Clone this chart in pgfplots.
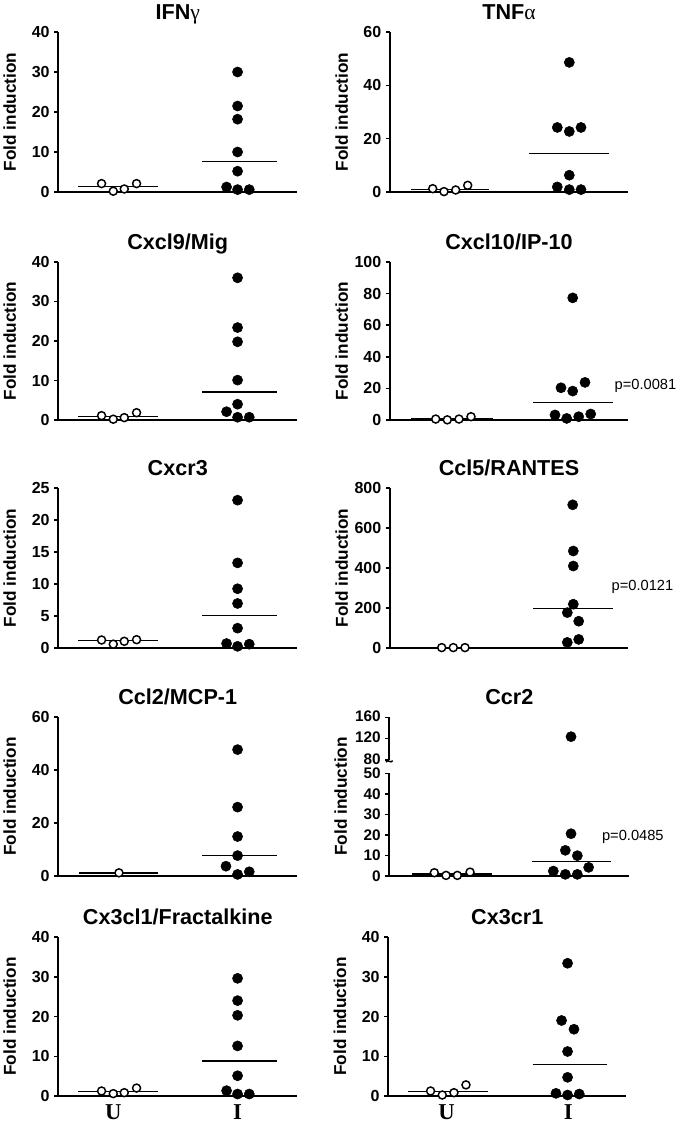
\documentclass[border=0pt]{standalone}
\usepackage{fontspec}
\setmainfont{Liberation Sans}
\newfontfamily\serif{Liberation Serif}
\usepackage{pgfplots}
\pgfplotsset{compat=1.18}
\pgfplotsset{
 panel/.style={
  scale only axis, clip=false, anchor=south west,
  xmin=0, xmax=23.9, ymin=0,
  axis x line*=bottom, axis y line*=left,
  axis line style={line width=1.3pt, black},
  xtick=\empty,
  ytick style={line width=1.1pt, black},
  xtick style={draw=none},
  tick align=outside, major tick length=3pt,
  tick label style={font=\fontsize{12}{14}\selectfont\bfseries},
  /pgf/number format/assume math mode=true,
  title style={font=\fontsize{16.2}{19}\selectfont\bfseries, at={(0.5,1)}, anchor=base, yshift=3.75pt},
  ylabel={Fold induction},
  ylabel style={font=\fontsize{12.9}{15}\selectfont\bfseries, at={(axis description cs:-0.203,0.5)}, anchor=center},
 },
 ccrticks/.style={yticklabel style={font=\fontsize{11.5}{13}\selectfont\bfseries, text height=8.2pt, text depth=0pt, inner ysep=0pt}},
 opn/.style={only marks, mark=*, mark size=3pt, mark options={fill=white, draw=black, line width=1.1pt}},
 fil/.style={only marks, mark=*, mark size=3.8pt, mark options={fill=black, draw=black}},
 med/.style={no marks, line width=1pt, black},
}
\tikzset{pval/.style={anchor=west, font=\fontsize{11}{13}\selectfont}}
\begin{document}
\begin{tikzpicture}
\path[use as bounding box] (0pt,0pt) rectangle (510pt,-845.25pt);

% Row 1 --------------------------------------------------
\begin{axis}[panel, at={(43.7pt,-144pt)}, width=179.25pt, height=120pt,
  ymax=40, ytick={0,10,20,30,40}, title={IFN{\serif\mdseries γ}}]
\addplot[med] coordinates {(2.0,1.45) (10.0,1.45)};
\addplot[med] coordinates {(14.4,7.7) (21.9,7.7)};
\addplot[opn] coordinates {(4.33,2.1) (5.5,0.2) (6.6,0.75) (7.83,2.1)};
\addplot[fil] coordinates {(17.93,30.0) (17.93,21.5) (17.93,18.2) (17.93,10.0) (17.93,5.2) (16.83,1.25) (17.93,0.6) (19.1,0.6)};
\end{axis}

\begin{axis}[panel, at={(292.5pt,-144pt)}, width=178.5pt, height=120pt, xmax=23.8,
  ymax=60, ytick={0,20,40,60}, title={TNF{\serif\mdseries α}}]
\addplot[med] coordinates {(2.1,1.0) (9.9,1.0)};
\addplot[med] coordinates {(13.93,14.5) (21.87,14.5)};
\addplot[opn] coordinates {(4.27,1.25) (5.4,0.15) (6.57,0.75) (7.77,2.5)};
\addplot[fil] coordinates {(17.93,48.6) (16.73,24.2) (17.93,22.7) (19.1,24.2) (17.93,6.3) (16.73,1.9) (17.93,0.9) (19.1,0.9)};
\end{axis}

% Row 2 --------------------------------------------------
\begin{axis}[panel, at={(43.7pt,-315pt)}, width=179.25pt, height=118.5pt,
  ymax=40, ytick={0,10,20,30,40}, title={Cxcl9/Mig}]
\addplot[med] coordinates {(2.0,0.95) (10.0,0.95)};
\addplot[med] coordinates {(14.4,7.05) (21.9,7.05)};
\addplot[opn] coordinates {(4.33,1.1) (5.5,0.2) (6.6,0.6) (7.83,1.85)};
\addplot[fil] coordinates {(17.93,36.0) (17.93,23.4) (17.93,19.8) (17.93,10.1) (17.93,4.0) (16.83,2.1) (17.93,0.7) (19.1,0.7)};
\end{axis}

\begin{axis}[panel, at={(292.5pt,-315pt)}, width=178.5pt, height=118.5pt, xmax=23.8,
  ymax=100, ytick={0,20,40,60,80,100}, title={Cxcl10/IP-10}]
\addplot[med] coordinates {(2.1,0.7) (10.33,0.7)};
\addplot[med] coordinates {(14.33,11.1) (22.27,11.1)};
\addplot[opn] coordinates {(4.57,0.6) (5.73,0.1) (6.9,0.6) (8.1,2.1)};
\addplot[fil] coordinates {(18.27,77.3) (17.1,20.4) (18.27,18.3) (19.5,23.8) (16.5,3.2) (17.67,1.0) (18.87,2.1) (20.07,3.8)};
\node[pval] at (axis cs:22.0,21.5) {p=0.0081};
\end{axis}

% Row 3 --------------------------------------------------
\begin{axis}[panel, at={(43.7pt,-486pt)}, width=179.25pt, height=120pt,
  ymax=25, ytick={0,5,10,15,20,25}, title={Cxcr3}]
\addplot[med] coordinates {(2.0,1.15) (10.0,1.15)};
\addplot[med] coordinates {(14.4,5.05) (21.9,5.05)};
\addplot[opn] coordinates {(4.33,1.25) (5.5,0.6) (6.6,1.05) (7.83,1.3)};
\addplot[fil] coordinates {(17.93,23.1) (17.93,13.3) (17.93,9.26) (17.93,6.96) (17.93,3.1) (16.83,0.7) (17.93,0.26) (19.1,0.6)};
\end{axis}

\begin{axis}[panel, at={(292.5pt,-486pt)}, width=178.5pt, height=120pt, xmax=23.8,
  ymax=800, ytick={0,200,400,600,800}, title={Ccl5/RANTES}]
\addplot[med] coordinates {(2.33,2) (10.33,2)};
\addplot[med] coordinates {(14.33,198) (22.27,198)};
\addplot[opn] coordinates {(5.17,2) (6.33,2) (7.5,2)};
\addplot[fil] coordinates {(18.27,716) (18.33,485) (18.33,410) (18.33,219) (17.73,177) (18.87,134) (17.73,28) (18.87,43)};
\node[pval] at (axis cs:21.7,305) {p=0.0121};
\end{axis}

% Row 4 --------------------------------------------------
\begin{axis}[panel, at={(43.7pt,-657pt)}, width=179.25pt, height=119.25pt,
  ymax=60, ytick={0,20,40,60}, title={Ccl2/MCP-1}]
\addplot[med] coordinates {(2.07,1.1) (10.0,1.1)};
\addplot[med] coordinates {(14.4,7.8) (21.9,7.8)};
\addplot[opn] coordinates {(6.07,1.2)};
\addplot[fil] coordinates {(17.93,47.7) (17.93,26.0) (17.93,14.9) (17.93,7.7) (16.77,3.7) (17.93,0.6) (19.1,1.6)};
\end{axis}

% Ccr2 lower part
\begin{axis}[panel, at={(292pt,-657pt)}, width=180pt, height=77pt, xmax=24.0,
  ymax=50, ytick={0,10,20,30,40,50}, ccrticks,
  ylabel style={at={(axis description cs:-0.203,0.775)}}]
\addplot[med] coordinates {(2.23,1.0) (10.23,1.0)};
\addplot[med] coordinates {(14.23,7.1) (22.13,7.1)};
\addplot[opn] coordinates {(4.5,1.6) (5.67,0.3) (6.8,0.3) (8.07,1.9)};
\addplot[fil] coordinates {(18.17,20.6) (17.6,12.5) (18.8,9.9) (19.93,4.2) (16.4,2.4) (17.6,0.8) (18.8,0.8)};
\node[pval] at (axis cs:20.8,18.9) {p=0.0485};
\end{axis}
% Ccr2 upper part
\begin{axis}[panel, at={(292pt,-570pt)}, width=180pt, height=32pt, xmax=24.0,
  ymin=80, ymax=160, ytick={80,120,160}, axis x line=none, ylabel={},
  ccrticks, yticklabel style={yshift=1pt},
  title={Ccr2}]
\addplot[fil] coordinates {(18.17,123.75)};
\draw[line width=1.1pt] (rel axis cs:0,0) ++(-2.5pt,-1.5pt) .. controls ++(1.5pt,2.5pt) and ++(-1.5pt,-2.5pt) .. ++(5pt,1pt);
\end{axis}

% Row 5 --------------------------------------------------
\begin{axis}[panel, at={(43.7pt,-822pt)}, width=179.25pt, height=119.25pt,
  ymax=40, ytick={0,10,20,30,40}, title={Cx3cl1/Fractalkine},
  xtick={5.5,17.93}, xticklabels={U,I},
  xticklabel style={font=\serif\bfseries\fontsize{17}{19}\selectfont}]
\addplot[med] coordinates {(2.0,1.1) (10.0,1.1)};
\addplot[med] coordinates {(14.4,8.85) (21.9,8.85)};
\addplot[opn] coordinates {(4.33,1.26) (5.5,0.6) (6.6,0.84) (7.83,2.0)};
\addplot[fil] coordinates {(17.93,29.6) (17.93,24.0) (17.93,20.3) (17.93,12.6) (17.93,5.1) (16.83,1.35) (17.93,0.5) (19.1,0.5)};
\end{axis}

\begin{axis}[panel, at={(291.2pt,-822pt)}, width=178.5pt, height=119.25pt, xmax=23.8,
  ymax=40, ytick={0,10,20,30,40}, title={Cx3cr1},
  xtick={5.83,18.0}, xticklabels={U,I},
  xticklabel style={font=\serif\bfseries\fontsize{17}{19}\selectfont}]
\addplot[med] coordinates {(2.0,1.1) (10.0,1.1)};
\addplot[med] coordinates {(14.43,7.95) (21.9,7.95)};
\addplot[opn] coordinates {(4.23,1.26) (5.4,0.25) (6.57,0.84) (7.77,2.8)};
\addplot[fil] coordinates {(17.93,33.4) (17.33,19.0) (18.57,16.8) (17.93,11.2) (17.93,4.7) (16.77,0.67) (17.93,0.25) (19.1,0.5)};
\end{axis}
\end{tikzpicture}
\end{document}
